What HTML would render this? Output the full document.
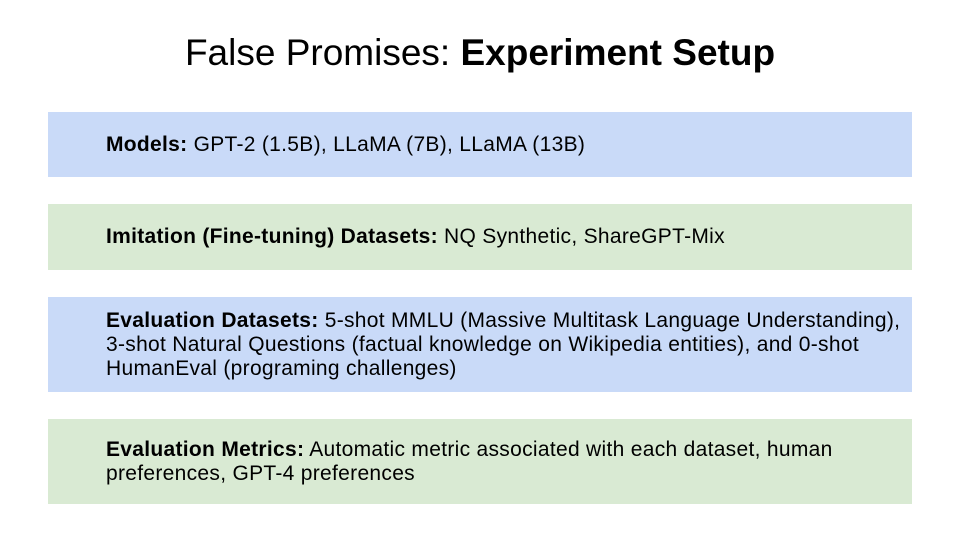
<!DOCTYPE html>
<html>
<head>
<meta charset="utf-8">
<style>
  html, body { margin:0; padding:0; }
  body { width:960px; height:540px; background:#fff; position:relative; overflow:hidden;
         font-family:"Liberation Sans", Arial, sans-serif; color:#000; }
  .title { position:absolute; left:0; width:960px; top:30px; text-align:center; font-size:37px; line-height:46px; }
  .box { position:absolute; left:48px; width:864px; box-sizing:border-box; padding-left:58px; padding-right:0;
         font-size:21px; line-height:24px; letter-spacing:0.3px; display:flex; align-items:center; white-space:nowrap; }
  .blue { background:#c9daf8; }
  .green { background:#d9ead3; }
</style>
</head>
<body>
  <div class="title">False Promises: <b>Experiment Setup</b></div>

  <div class="box blue" style="top:112px;height:65px;">
    <div><b>Models:</b> GPT-2 (1.5B), LLaMA (7B), LLaMA (13B)</div>
  </div>

  <div class="box green" style="top:204px;height:66px;">
    <div><b>Imitation (Fine-tuning) Datasets:</b> NQ Synthetic, ShareGPT-Mix</div>
  </div>

  <div class="box blue" style="top:297px;height:95px;">
    <div><b>Evaluation Datasets:</b> 5-shot MMLU (Massive Multitask Language Understanding),<br>3-shot Natural Questions (factual knowledge on Wikipedia entities), and 0-shot<br>HumanEval (programing challenges)</div>
  </div>

  <div class="box green" style="top:419px;height:85px;">
    <div><b>Evaluation Metrics:</b> Automatic metric associated with each dataset, human<br>preferences, GPT-4 preferences</div>
  </div>
</body>
</html>
